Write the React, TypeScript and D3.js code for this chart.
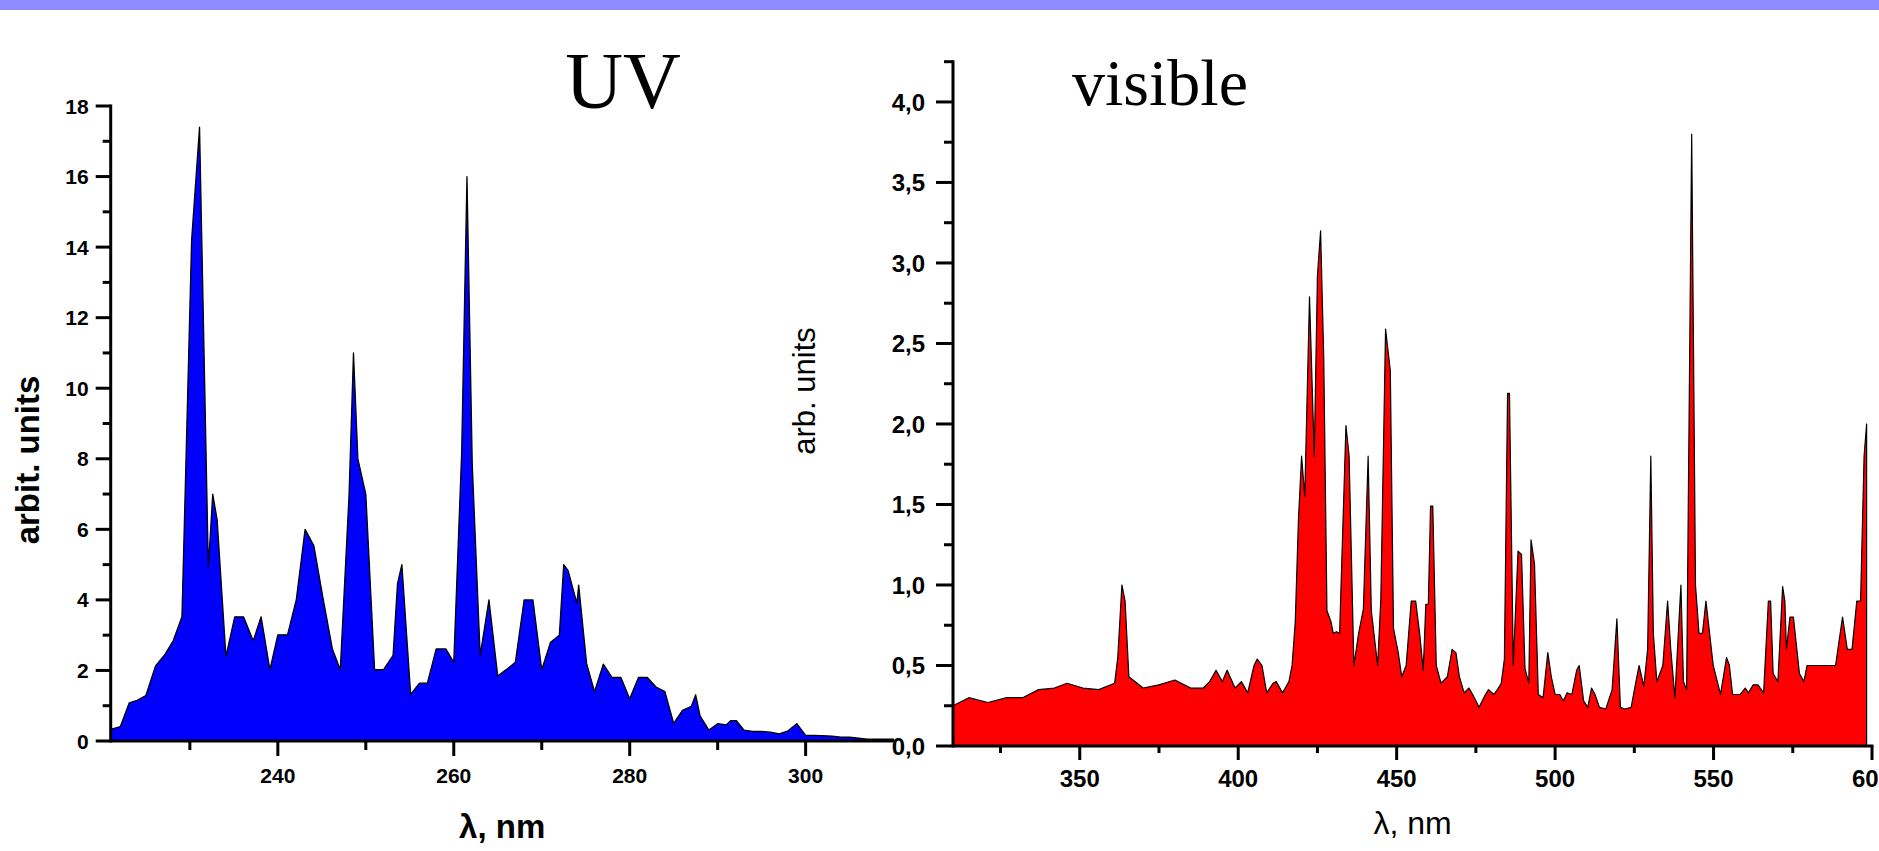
import React from 'react';
import * as d3 from 'd3';

// ---------- data ----------
const uvWavelength = [221, 222.1, 223.1, 224, 225, 226.1, 227.1, 228.1, 229.1, 230.2, 231.1, 232.1, 232.6, 233.1, 234.1, 235.1, 236.1, 237.2, 238.1, 239.1, 240, 241.1, 242.1, 243.1, 244.1, 245.1, 246.2, 247.1, 248.1, 248.6, 249.1, 250, 251, 252, 253.1, 253.6, 254.1, 255.1, 256.1, 257, 258, 259.1, 260, 260.9, 261.5, 262.1, 263, 264, 265, 266, 267, 268, 269, 270, 271, 272, 272.5, 273, 274, 274.2, 275.1, 276, 277, 278, 279, 280, 281, 282, 283, 284, 285, 286, 287, 287.5, 288, 289, 290, 291, 291.5, 292.1, 293, 294, 295, 296, 297, 298, 299, 300, 301, 303, 304, 305, 307, 310];
const uvIntensity = [0.33, 0.41, 1.08, 1.15, 1.29, 2.13, 2.43, 2.84, 3.52, 14.2, 17.4, 4.92, 7.0, 6.27, 2.4, 3.52, 3.52, 2.84, 3.52, 2.02, 3.01, 3.01, 4.01, 6.0, 5.53, 4.1, 2.61, 2.02, 7.0, 11.0, 8.0, 7.0, 2.02, 2.02, 2.43, 4.45, 5.0, 1.32, 1.64, 1.64, 2.61, 2.61, 2.23, 8.2, 16.0, 7.85, 2.43, 4.0, 1.84, 2.03, 2.23, 4.0, 4.0, 2.02, 2.8, 3.0, 5.0, 4.83, 3.9, 4.42, 2.2, 1.4, 2.18, 1.8, 1.8, 1.2, 1.8, 1.8, 1.53, 1.4, 0.5, 0.87, 0.98, 1.31, 0.71, 0.31, 0.49, 0.46, 0.58, 0.58, 0.31, 0.27, 0.27, 0.25, 0.2, 0.29, 0.49, 0.16, 0.16, 0.14, 0.11, 0.11, 0.05, 0.05];

const visWavelength = [310, 315, 321, 327, 332, 337, 342, 346, 351, 356, 361, 362, 363.3, 364.3, 365.5, 370, 375, 380, 385, 389, 391, 393, 395, 396.5, 399, 401, 403, 405, 406, 407.5, 409, 411, 412, 414, 416, 417, 418, 419, 420, 421, 422.5, 424, 425, 426, 427, 428, 429.3, 430, 431, 432, 434, 435, 436.5, 438, 439.5, 441, 442, 444, 445, 446.5, 448, 449, 450.5, 451.6, 453, 454.6, 456, 457.3, 458.4, 459.2, 460, 460.7, 461.4, 462.5, 464, 466, 467.5, 468.7, 469.8, 471.3, 472.8, 474, 476, 478, 479, 480.7, 481.8, 483, 484, 485, 485.6, 486.8, 488.3, 489.4, 490.5, 491.7, 492.4, 493.5, 494.7, 496.2, 497.7, 498.8, 500, 501.5, 502.6, 503.8, 505.3, 506.8, 507.6, 509, 510.3, 511.5, 512.6, 514, 516, 518, 519.5, 520.6, 522, 524, 525.5, 526.5, 528, 529.2, 530.2, 531, 532.1, 534, 535.5, 536.5, 537.8, 539.7, 540.5, 541.5, 543.1, 544.3, 545.4, 546.5, 547.6, 549.9, 552.2, 554.1, 555, 556, 558.4, 560, 561, 562.5, 564, 565.8, 567.3, 568, 568.8, 570.3, 571.8, 572.5, 573, 574.1, 575.2, 577.1, 578.5, 579.5, 584, 588.5, 590.7, 592.2, 593.7, 595.2, 596.4, 597.5, 598.3];
const visIntensity = [0.25, 0.3, 0.27, 0.3, 0.3, 0.35, 0.36, 0.39, 0.36, 0.35, 0.39, 0.55, 1.0, 0.9, 0.43, 0.36, 0.38, 0.41, 0.36, 0.36, 0.4, 0.47, 0.4, 0.47, 0.36, 0.4, 0.33, 0.5, 0.54, 0.5, 0.33, 0.39, 0.4, 0.33, 0.4, 0.5, 0.77, 1.4, 1.8, 1.55, 2.79, 1.8, 2.92, 3.2, 2.4, 0.84, 0.77, 0.7, 0.71, 0.7, 1.99, 1.8, 0.5, 0.7, 0.85, 1.8, 0.84, 0.5, 0.91, 2.59, 2.33, 0.73, 0.58, 0.43, 0.5, 0.9, 0.9, 0.69, 0.47, 0.88, 0.88, 1.49, 1.49, 0.5, 0.39, 0.43, 0.6, 0.58, 0.43, 0.33, 0.36, 0.32, 0.24, 0.32, 0.35, 0.32, 0.35, 0.39, 0.54, 2.19, 2.19, 0.5, 1.21, 1.19, 0.48, 0.39, 1.28, 1.13, 0.32, 0.3, 0.58, 0.43, 0.32, 0.32, 0.28, 0.33, 0.32, 0.47, 0.5, 0.28, 0.24, 0.36, 0.32, 0.24, 0.23, 0.35, 0.79, 0.24, 0.23, 0.24, 0.4, 0.5, 0.37, 0.6, 1.8, 0.7, 0.4, 0.5, 0.9, 0.6, 0.3, 1.0, 0.4, 0.35, 3.8, 1.0, 0.7, 0.7, 0.9, 0.5, 0.32, 0.55, 0.5, 0.32, 0.32, 0.36, 0.33, 0.38, 0.38, 0.33, 0.9, 0.9, 0.45, 0.4, 0.99, 0.9, 0.6, 0.8, 0.8, 0.45, 0.4, 0.5, 0.5, 0.5, 0.8, 0.6, 0.6, 0.9, 0.9, 1.8, 2.0];

const uvYMajor = [0, 2, 4, 6, 8, 10, 12, 14, 16, 18];
const uvYMinor = [1, 3, 5, 7, 9, 11, 13, 15, 17];
const uvXMajor = [240, 260, 280, 300];
const uvXMinor = [230, 250, 270, 290];
const visYMajor = [0, 0.5, 1, 1.5, 2, 2.5, 3, 3.5, 4];
const visYMinor = [0.25, 0.75, 1.25, 1.75, 2.25, 2.75, 3.25, 3.75, 4.25];
const visXMajor = [350, 400, 450, 500, 550, 600];
const visXMinor = [325, 375, 425, 475, 525, 575];

const W = 1879;
const H = 851;
const SANS = '"Liberation Sans", Arial, sans-serif';
const SERIF = '"Liberation Serif", "Times New Roman", serif';

type Pt = { x: number; y: number };

export default function App() {
  // UV panel scales
  const uvX = d3.scaleLinear().domain([221, 310]).range([110.7, 893.6]);
  const uvY = d3.scaleLinear().domain([0, 18]).range([741, 106]);
  // visible panel scales
  const vX = d3.scaleLinear().domain([310, 600]).range([953, 1872]);
  const vY = d3.scaleLinear().domain([0, 4.25]).range([746, 61.7]);

  const uvData: Pt[] = uvWavelength.map((w, i) => ({ x: w, y: uvIntensity[i] }));
  const visData: Pt[] = visWavelength.map((w, i) => ({ x: w, y: visIntensity[i] }));

  const uvArea = d3.area<Pt>().x(d => uvX(d.x)).y0(uvY(0)).y1(d => uvY(d.y))(uvData) || '';
  const visArea = d3.area<Pt>().x(d => vX(d.x)).y0(vY(0)).y1(d => vY(d.y))(visData) || '';

  const axisW = 3;

  return (
    <svg width={W} height={H} style={{ position: 'absolute', left: 0, top: 0, background: '#fff' }}>
      <rect x={0} y={0} width={W} height={10} fill="#8c8cff" />

      {/* ---------- UV panel ---------- */}
      <path d={uvArea} fill="#0000ff" stroke="#000" strokeWidth={1.3} strokeLinejoin="round" />
      <line x1={uvX(221)} x2={uvX(221)} y1={uvY(18) - 1.5} y2={uvY(0) + 1.5} stroke="#000" strokeWidth={axisW} />
      <line x1={uvX(221)} x2={uvX(310)} y1={uvY(0)} y2={uvY(0)} stroke="#000" strokeWidth={axisW} />
      {uvYMajor.map(t => (
        <g key={'uym' + t}>
          <line x1={uvX(221) - 15} x2={uvX(221)} y1={uvY(t)} y2={uvY(t)} stroke="#000" strokeWidth={axisW} />
          <text x={uvX(221) - 22} y={uvY(t)} dy="0.36em" textAnchor="end" fontFamily={SANS} fontWeight="bold" fontSize={21}>{t}</text>
        </g>
      ))}
      {uvYMinor.map(t => (
        <line key={'uyn' + t} x1={uvX(221) - 8} x2={uvX(221)} y1={uvY(t)} y2={uvY(t)} stroke="#000" strokeWidth={axisW} />
      ))}
      {uvXMajor.map(t => (
        <g key={'uxm' + t}>
          <line x1={uvX(t)} x2={uvX(t)} y1={uvY(0)} y2={uvY(0) + 15} stroke="#000" strokeWidth={axisW} />
          <text x={uvX(t)} y={uvY(0) + 42} textAnchor="middle" fontFamily={SANS} fontWeight="bold" fontSize={21}>{t}</text>
        </g>
      ))}
      {uvXMinor.map(t => (
        <line key={'uxn' + t} x1={uvX(t)} x2={uvX(t)} y1={uvY(0)} y2={uvY(0) + 9} stroke="#000" strokeWidth={axisW} />
      ))}
      <text x={(uvX(221) + uvX(310)) / 2} y={838} textAnchor="middle" fontFamily={SANS} fontWeight="bold" fontSize={33}>λ, nm</text>
      <text transform="translate(39,460) rotate(-90)" textAnchor="middle" fontFamily={SANS} fontWeight="bold" fontSize={33}>arbit. units</text>
      <text x={623} y={108} textAnchor="middle" fontFamily={SERIF} fontSize={80}>UV</text>

      {/* ---------- visible panel ---------- */}
      <path d={visArea} fill="#ff0000" stroke="#000" strokeWidth={1.2} strokeLinejoin="round" />
      <line x1={vX(310)} x2={vX(310)} y1={vY(4.25) - 1.5} y2={vY(0) + 1.5} stroke="#000" strokeWidth={axisW} />
      <line x1={vX(310)} x2={vX(600) + 1.5} y1={vY(0)} y2={vY(0)} stroke="#000" strokeWidth={axisW} />
      {visYMajor.map(t => (
        <g key={'vym' + t}>
          <line x1={vX(310) - 17} x2={vX(310)} y1={vY(t)} y2={vY(t)} stroke="#000" strokeWidth={axisW} />
          <text x={vX(310) - 28} y={vY(t)} dy="0.36em" textAnchor="end" fontFamily={SANS} fontWeight="bold" fontSize={24}>{t.toFixed(1).replace('.', ',')}</text>
        </g>
      ))}
      {visYMinor.map(t => (
        <line key={'vyn' + t} x1={vX(310) - 9} x2={vX(310)} y1={vY(t)} y2={vY(t)} stroke="#000" strokeWidth={axisW} />
      ))}
      {visXMajor.map(t => (
        <g key={'vxm' + t}>
          <line x1={vX(t)} x2={vX(t)} y1={vY(0)} y2={vY(0) + 14} stroke="#000" strokeWidth={axisW} />
          <text x={vX(t)} y={vY(0) + 41} textAnchor="middle" fontFamily={SANS} fontWeight="bold" fontSize={24}>{t}</text>
        </g>
      ))}
      {visXMinor.map(t => (
        <line key={'vxn' + t} x1={vX(t)} x2={vX(t)} y1={vY(0)} y2={vY(0) + 7} stroke="#000" strokeWidth={axisW} />
      ))}
      <text x={(vX(310) + vX(600)) / 2} y={834} textAnchor="middle" fontFamily={SANS} fontSize={32}>λ, nm</text>
      <text transform="translate(815,391) rotate(-90)" textAnchor="middle" fontFamily={SANS} fontSize={31}>arb. units</text>
      <text x={1072} y={105} textAnchor="start" fontFamily={SERIF} fontSize={66}>visible</text>
    </svg>
  );
}
